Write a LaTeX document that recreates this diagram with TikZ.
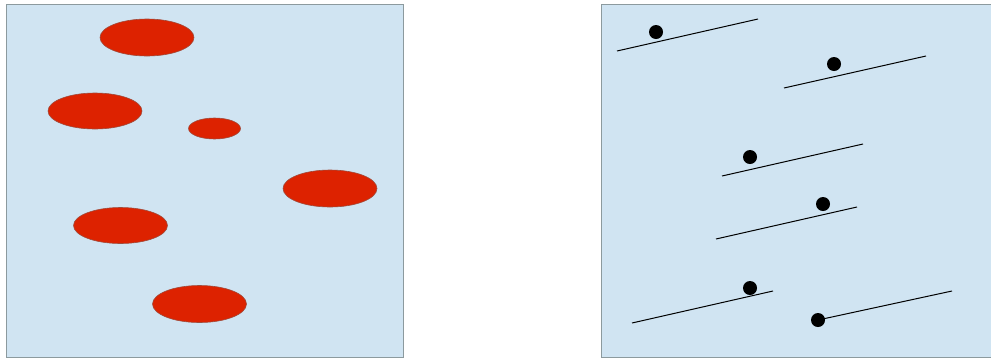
\documentclass[tikz,border=0pt]{standalone}
\begin{document}
\begin{tikzpicture}[x=1pt,y=-1pt,
  panel/.style={fill=bgblue,draw=edgegrey,line width=1pt},
  blob/.style={fill=blobred,draw=blobedge,line width=0.6pt},
  slope/.style={draw=black,line width=1pt},
  ball/.style={circle,fill=black,inner sep=0pt,minimum size=14pt}]
\definecolor{bgblue}{HTML}{D0E4F2}
\definecolor{edgegrey}{HTML}{8C9A9E}
\definecolor{blobred}{HTML}{DD2200}
\definecolor{blobedge}{HTML}{A04A3A}
\useasboundingbox (0,0) rectangle (991,360);
% panels
\draw[panel] (6,4) rectangle (403,357);
\draw[panel] (601,4) rectangle (995,357);
% left panel: ellipses
\fill[blob] (147,37.5) ellipse [x radius=47, y radius=18.5];
\fill[blob] (95,111) ellipse [x radius=47, y radius=18];
\fill[blob] (214.5,128.5) ellipse [x radius=26, y radius=10.5];
\fill[blob] (330,188.5) ellipse [x radius=47, y radius=18.5];
\fill[blob] (120.5,225.5) ellipse [x radius=47, y radius=18];
\fill[blob] (199.5,304) ellipse [x radius=47, y radius=18.5];
% right panel: slopes and balls
\coordinate (a1) at (617,51); \coordinate (b1) at (758,19);
\coordinate (a2) at (784,88); \coordinate (b2) at (926,56);
\coordinate (a3) at (722,176); \coordinate (b3) at (863,144);
\coordinate (a4) at (716,239); \coordinate (b4) at (857,207);
\coordinate (a5) at (632,323); \coordinate (b5) at (773,291);
\coordinate (b6) at (952,291);
\draw[slope] (a1) -- (b1);
\draw[slope] (a2) -- (b2);
\draw[slope] (a3) -- (b3);
\draw[slope] (a4) -- (b4);
\draw[slope] (a5) -- (b5);
\node[ball] (d1) at (656,32) {};
\node[ball] (d2) at (834,64) {};
\node[ball] (d3) at (750,157) {};
\node[ball] (d4) at (823,204) {};
\node[ball] (d5) at (750,288) {};
\node[ball] (d6) at (818,320) {};
\draw[slope] (d6.center) -- (b6);
\end{tikzpicture}
\end{document}
